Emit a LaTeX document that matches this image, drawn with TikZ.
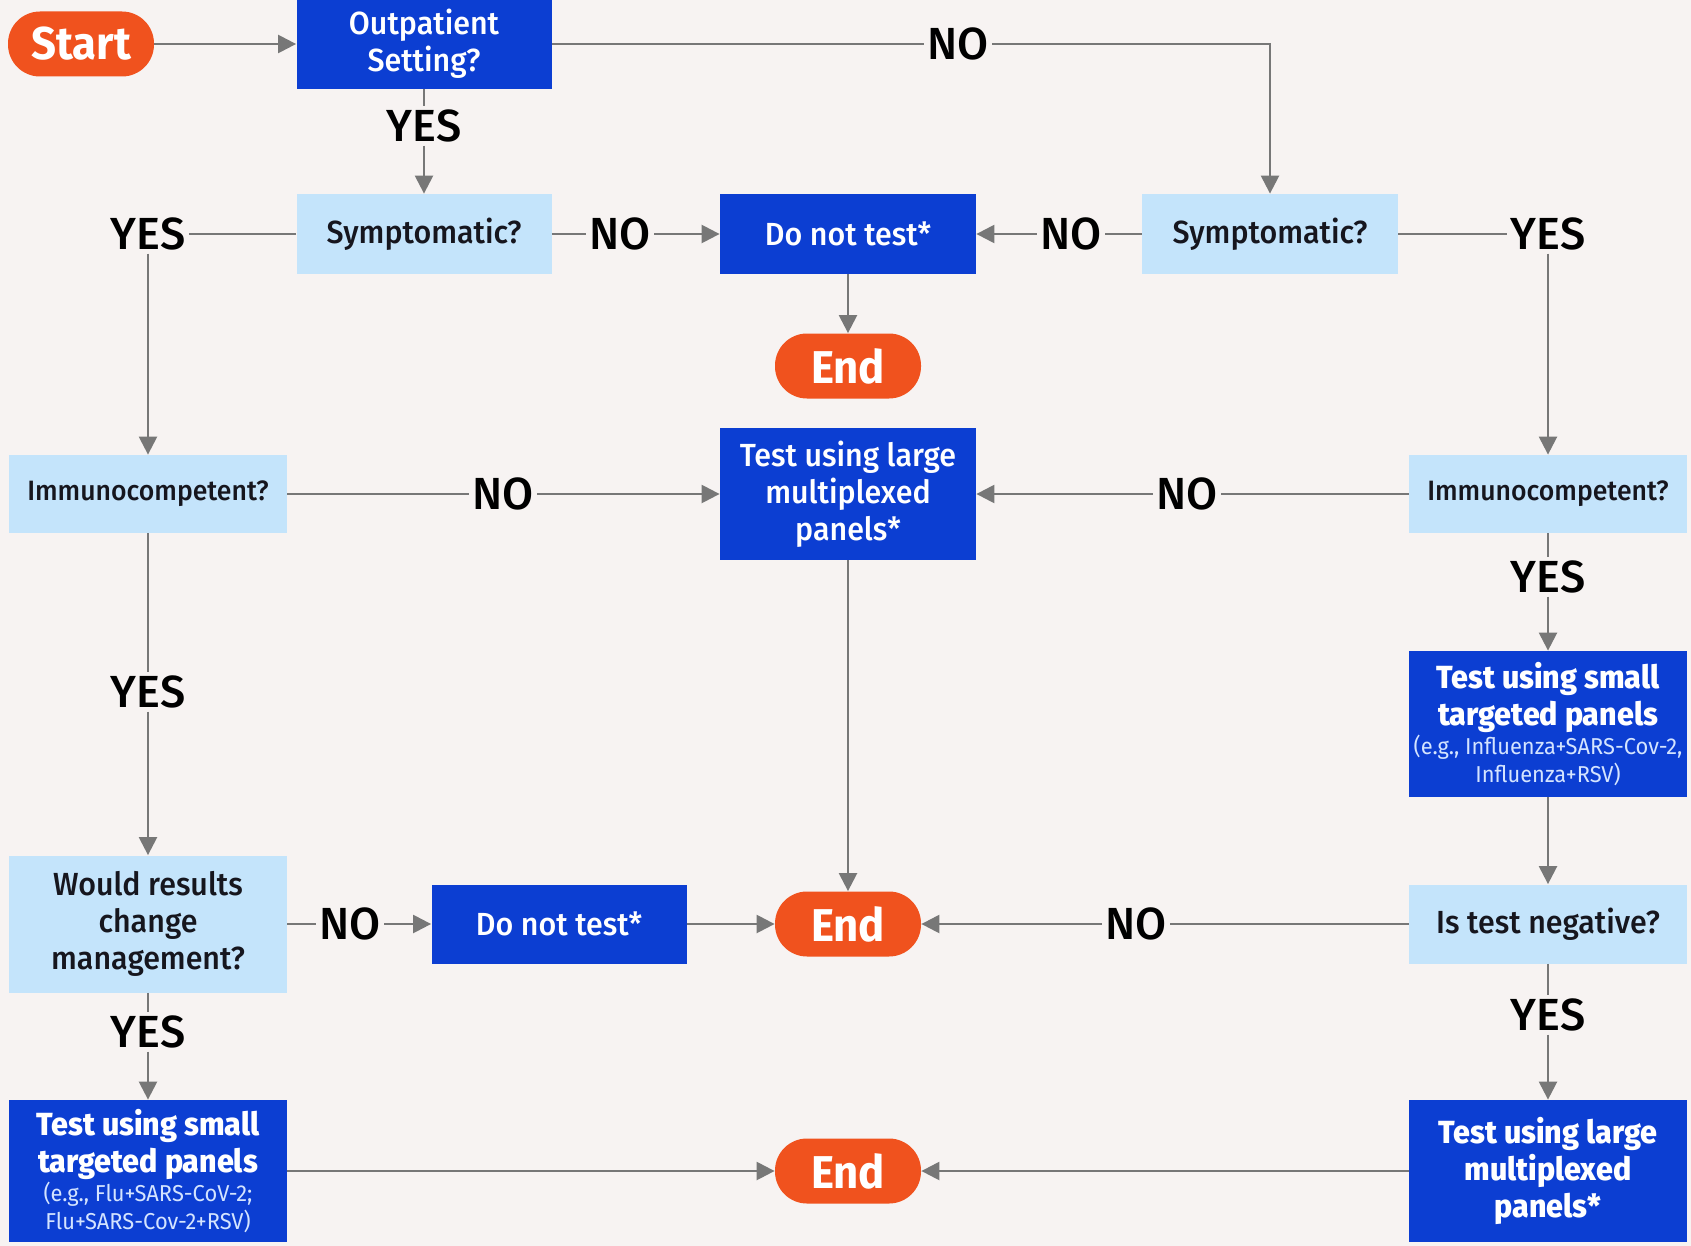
\documentclass[tikz,border=0pt]{standalone}
\usepackage{fontspec}
\setmainfont{Fira Sans}[FakeStretch=0.95]
\newfontfamily\medfont{Fira Sans Medium}[FakeStretch=0.95]
\newfontfamily\answerfont{Fira Sans Medium}
\usetikzlibrary{arrows.meta}

\definecolor{bg}{HTML}{F7F3F2}
\definecolor{darkblue}{HTML}{0C3ED2}
\definecolor{lightblue}{HTML}{C4E4FB}
\definecolor{endorange}{HTML}{F0521E}
\definecolor{linegray}{HTML}{777777}
\definecolor{ink}{HTML}{16161E}
\definecolor{smallink}{HTML}{D4E4FF}

\begin{document}
\begin{tikzpicture}[x=0.5pt, y=-0.5pt,
    darkbox/.style={fill=darkblue, text=white, align=center, inner sep=2pt, font=\medfont\fontsize{16}{18.5}\selectfont},
    lightbox/.style={fill=lightblue, text=ink, align=center, inner sep=2pt, font=\medfont\fontsize{16}{18.5}\selectfont},
    terminal/.style={fill=endorange, text=white, rounded corners=16pt, minimum width=73pt, minimum height=32.5pt, font=\bfseries\fontsize{23}{26}\selectfont},
    answer/.style={fill=bg, text=black, inner sep=1.5pt, font=\answerfont\fontsize{22.5}{26}\selectfont},
    flow/.style={draw=linegray, line width=1.2pt, -{Triangle[length=9pt,width=9pt]}},
    link/.style={draw=linegray, line width=1.2pt},
]
    % Background and page size
    \fill[bg] (0,0) rectangle (1691,1246);
    \useasboundingbox (0,0) rectangle (1691,1246);

    \newcommand{\egfont}{\normalfont\fontsize{11.5}{14}\selectfont\color{smallink}}

    % Top row
    \node[terminal] (start) at (81,44) {Start};
    \node[darkbox, minimum width=127.5pt, minimum height=45pt] (outp) at (424,44) {Outpatient\\Setting?};
    \node[answer] (yesTop) at (424,126) {YES};
    \node[answer] (noTop) at (958,44) {NO};

    % Symptomatic row
    \node[lightbox, minimum width=127.5pt, minimum height=40pt] (symL) at (424,234) {Symptomatic?};
    \node[answer] (yesL) at (148,234) {YES};
    \node[answer] (noL) at (620,234) {NO};
    \node[darkbox, minimum width=128pt, minimum height=40pt] (dntA) at (848,234) {Do not test*};
    \node[answer] (noR) at (1071,234) {NO};
    \node[lightbox, minimum width=128pt, minimum height=40pt] (symR) at (1270,234) {Symptomatic?};
    \node[answer] (yesR) at (1548,234) {YES};
    \node[terminal] (endA) at (848,366) {End};

    % Immunocompetent row
    \node[lightbox, minimum width=139pt, minimum height=39pt, font=\medfont\fontsize{14}{17}\selectfont] (immL) at (148,494) {Immunocompetent?};
    \node[answer] (noImmL) at (503,494) {NO};
    \node[darkbox, minimum width=128pt, minimum height=66pt] (largeMid) at (848,494) {Test using large\\multiplexed\\panels*};
    \node[answer] (noImmR) at (1187,494) {NO};
    \node[lightbox, minimum width=139pt, minimum height=39pt, font=\medfont\fontsize{14}{17}\selectfont] (immR) at (1548,494) {Immunocompetent?};

    % Right column, small panels
    \node[answer] (yesImmR) at (1548,577) {YES};
    \node[darkbox, minimum width=139pt, minimum height=73pt] (smallR) at (1548,724)
        {\bfseries Test using small\\\bfseries targeted panels\\[-4pt]{\egfont (e.g., Influenza+SARS-Cov-2,}\\[-4.5pt]{\egfont Influenza+RSV)}};

    % Left column
    \node[answer] (yesImmL) at (148,692) {YES};
    \node[lightbox, minimum width=139pt, minimum height=68.5pt] (would) at (148,924) {Would results\\change\\management?};
    \node[answer] (noWould) at (350,924) {NO};
    \node[darkbox, minimum width=127.5pt, minimum height=39.5pt] (dntB) at (559,924) {Do not test*};
    \node[terminal] (endB) at (848,924) {End};
    \node[answer] (noNeg) at (1136,924) {NO};
    \node[lightbox, minimum width=139pt, minimum height=39.5pt] (neg) at (1548,924) {Is test negative?};

    % Bottom row
    \node[answer] (yesWould) at (148,1032) {YES};
    \node[answer] (yesNeg) at (1548,1015) {YES};
    \node[darkbox, minimum width=139pt, minimum height=71pt] (smallL) at (148,1171)
        {\bfseries Test using small\\\bfseries targeted panels\\[-4pt]{\egfont (e.g., Flu+SARS-CoV-2;}\\[-4.5pt]{\egfont Flu+SARS-Cov-2+RSV)}};
    \node[terminal] (endC) at (848,1171) {End};
    \node[darkbox, minimum width=139pt, minimum height=71pt] (largeR) at (1548,1171)
        {\bfseries Test using large\\\bfseries multiplexed\\\bfseries panels*};

    % Connectors
    \draw[flow] (start.east) -- (outp.west);
    \draw[link] (outp.south) -- (yesTop.north);
    \draw[flow] (yesTop.south) -- (symL.north);
    \draw[link] (outp.east) -- (noTop.west);
    \draw[flow] (noTop.east) -| (symR.north);

    \draw[link] (symL.west) -- (yesL.east);
    \draw[flow] (yesL.south) -- (immL.north);
    \draw[link] (symL.east) -- (noL.west);
    \draw[flow] (noL.east) -- (dntA.west);
    \draw[link] (symR.west) -- (noR.east);
    \draw[flow] (noR.west) -- (dntA.east);
    \draw[link] (symR.east) -- (yesR.west);
    \draw[flow] (yesR.south) -- (immR.north);
    \draw[flow] (dntA.south) -- (endA.north);

    \draw[link] (immL.east) -- (noImmL.west);
    \draw[flow] (noImmL.east) -- (largeMid.west);
    \draw[link] (immR.west) -- (noImmR.east);
    \draw[flow] (noImmR.west) -- (largeMid.east);
    \draw[flow] (largeMid.south) -- (endB.north);

    \draw[link] (immR.south) -- (yesImmR.north);
    \draw[flow] (yesImmR.south) -- (smallR.north);
    \draw[flow] (smallR.south) -- (neg.north);
    \draw[link] (immL.south) -- (yesImmL.north);
    \draw[flow] (yesImmL.south) -- (would.north);

    \draw[link] (would.east) -- (noWould.west);
    \draw[flow] (noWould.east) -- (dntB.west);
    \draw[flow] (dntB.east) -- (endB.west);
    \draw[link] (neg.west) -- (noNeg.east);
    \draw[flow] (noNeg.west) -- (endB.east);

    \draw[link] (would.south) -- (yesWould.north);
    \draw[flow] (yesWould.south) -- (smallL.north);
    \draw[link] (neg.south) -- (yesNeg.north);
    \draw[flow] (yesNeg.south) -- (largeR.north);
    \draw[flow] (smallL.east) -- (endC.west);
    \draw[flow] (largeR.west) -- (endC.east);
\end{tikzpicture}
\end{document}
